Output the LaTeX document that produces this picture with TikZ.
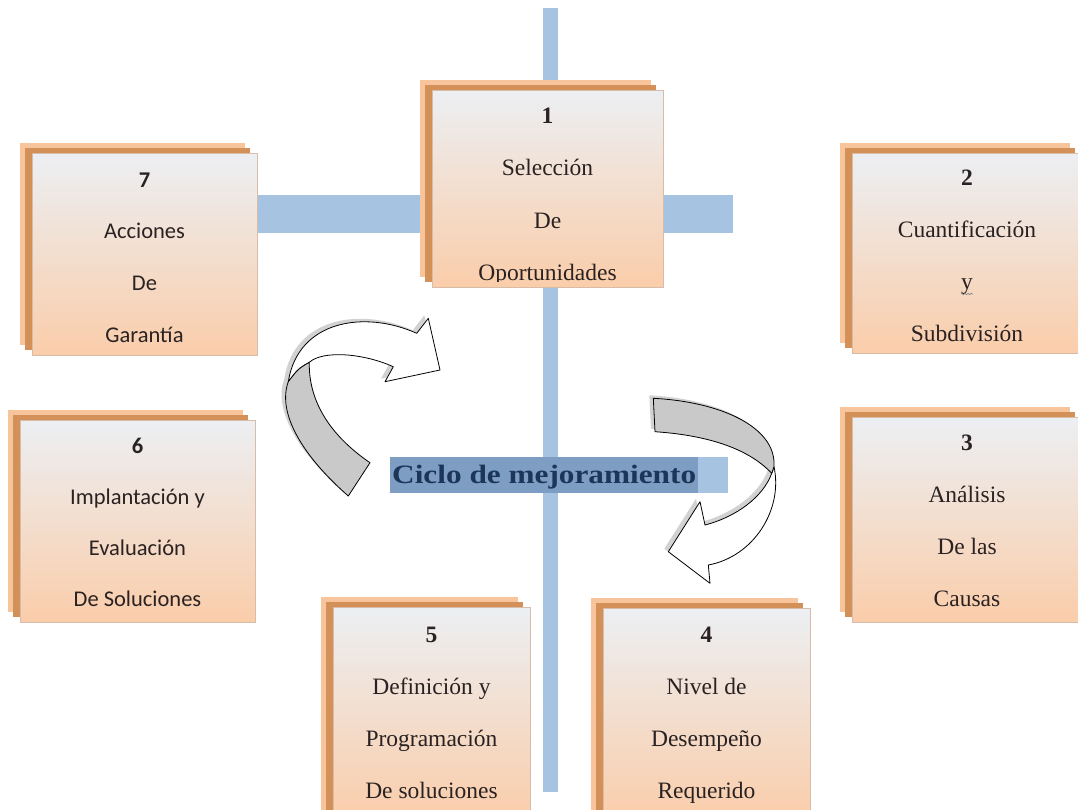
\documentclass[tikz,border=0pt]{standalone}
\usepackage{fontspec}
\setmainfont{Liberation Serif}
\newfontfamily\carl{Carlito}
\usetikzlibrary{decorations.pathmorphing}
\definecolor{barblue}{HTML}{A6C4E2}
\definecolor{ciclodark}{HTML}{7E9DC2}
\definecolor{ciclotext}{HTML}{1B3658}
\definecolor{backlight}{HTML}{F7C49C}
\definecolor{backdark}{HTML}{D39159}
\definecolor{cardtop}{HTML}{ECEFF3}
\definecolor{cardbot}{HTML}{FACDAA}
\definecolor{cardedge}{HTML}{D8BCA8}
\definecolor{textdark}{HTML}{2A2222}
\definecolor{arrowgray}{HTML}{C9C9C9}
\newcommand\serifbox{\fontsize{23.5}{28}\selectfont}
\newcommand\sansbox{\carl\fontsize{22.5}{27}\selectfont}
\newcommand\card[5]{%
  \path (#2,#3) node[minimum width=#4pt, minimum height=#5pt, inner sep=0pt, outer sep=0pt] (#1) {};
  \fill[backlight] ([shift={(-12,-10)}]#1.north west) rectangle ([shift={(-12,-10)}]#1.south east);
  \fill[backdark] ([shift={(-7,-5)}]#1.north west) rectangle ([shift={(-7,-5)}]#1.south east);
  \shadedraw[top color=cardtop, bottom color=cardbot, draw=cardedge, line width=0.6pt] (#1.north west) rectangle (#1.south east);
}
\newcommand\cardlines[9]{%
  \node[txt,font=#5\bfseries] (#1n) at (#2,#3) {#6};
  \node[txt,font=#5] (#1a) at (#2,{#3+#4}) {#7};
  \node[txt,font=#5] (#1b) at (#2,{#3+2*#4}) {#8};
  \node[txt,font=#5] (#1c) at (#2,{#3+3*#4}) {#9};
}
\begin{document}
\begin{tikzpicture}[x=1pt,y=-1pt,
  txt/.style={anchor=base, inner sep=0pt, text=textdark},
  arrowout/.style={draw=black, line width=0.8pt, line join=round},
  arrowshadow/.style={fill=gray, opacity=0.35}]
\useasboundingbox (0,0) rectangle (1078,809);
\clip (0,0) rectangle (1078,809);
\fill[white] (0,0) rectangle (1078,809);
% blue cross bars
\fill[barblue] (543,8) rectangle (558,792);
\fill[barblue] (250,195) rectangle (733,233);
% cards
\card{b7}{144.5}{254}{225}{202}
\card{b1}{547.5}{188.5}{231}{197}
\card{b2}{967}{253}{230}{200}
\card{b3}{967}{519.5}{230}{205}
\card{b6}{137.5}{521}{235}{202}
\card{b5}{431.5}{713.5}{197}{213}
\card{b4}{706.5}{714}{207}{212}
% texts
\cardlines{t7}{144.5}{187}{51.7}{\sansbox}{7}{Acciones}{De}{Garantía}
\begin{scope}
  \clip (432,90) rectangle (663,281);
  \cardlines{t1}{547.5}{123}{52.5}{\serifbox}{1}{Selección}{De}{Oportunidades}
\end{scope}
\cardlines{t2}{967}{185}{52}{\serifbox}{2}{Cuantificación}{y}{Subdivisión}
\draw[decorate, decoration={snake, amplitude=0.8pt, segment length=3pt}, gray, line width=0.6pt] (961,294) -- (973,294);
\cardlines{t3}{967}{450}{52.3}{\serifbox}{3}{Análisis}{De las}{Causas}
\cardlines{t6}{137.5}{453}{51}{\sansbox}{6}{Implantación y}{Evaluación}{De Soluciones}
\cardlines{t5}{431.5}{642}{52}{\serifbox}{5}{Definición y}{Programación}{De soluciones}
\cardlines{t4}{706.5}{642}{52}{\serifbox}{4}{Nivel de}{Desempeño}{Requerido}
% central label
\fill[ciclodark] (390,457) rectangle (698,493);
\fill[barblue] (698,457) rectangle (728,493);
\node[anchor=base west, inner sep=0pt, text=ciclotext] (ciclo) at (392,483)
  {\scalebox{1.18}[1]{\bfseries\fontsize{26.5}{30}\selectfont Ciclo de mejoramiento}};
% left curved arrow
\begin{scope}[shift={(-4,-3)}]
  \fill[arrowshadow] (348.3,496) .. controls (303.3,456.7) and (276.7,413.3) .. (288.3,381.7)
    .. controls (298,320) and (365,310) .. (416.7,333.3) -- (428.3,318.3) -- (440,370)
    -- (385,381.7) -- (393.3,366.7) .. controls (363.3,353.3) and (323.3,350) .. (309.3,362.3)
    .. controls (308.3,406.7) and (336.7,440) .. (370,462.7) -- cycle;
\end{scope}
\fill[white] (348.3,496) .. controls (303.3,456.7) and (276.7,413.3) .. (288.3,381.7)
    .. controls (298,320) and (365,310) .. (416.7,333.3) -- (428.3,318.3) -- (440,370)
    -- (385,381.7) -- (393.3,366.7) .. controls (363.3,353.3) and (323.3,350) .. (309.3,362.3)
    .. controls (308.3,406.7) and (336.7,440) .. (370,462.7) -- cycle;
\path[fill=white, arrowout] (288.3,381.7) .. controls (298,320) and (365,310) .. (416.7,333.3)
  -- (428.3,318.3) -- (440,370) -- (385,381.7) -- (393.3,366.7)
  .. controls (363.3,353.3) and (323.3,350) .. (309.3,362.3)
  .. controls (298,369) .. (288.3,381.7) -- cycle;
\path[fill=arrowgray, arrowout] (348.3,496) .. controls (303.3,456.7) and (276.7,413.3) .. (288.3,381.7)
  .. controls (298,369) .. (309.3,362.3)
  .. controls (308.3,406.7) and (336.7,440) .. (370,462.7) -- cycle;
% right curved arrow
\begin{scope}[shift={(-4,-3)}]
  \fill[arrowshadow] (653.3,398.3) .. controls (720,401.7) and (776.7,426.7) .. (774,466.7)
    .. controls (783.3,510) and (753.3,556.7) .. (708.3,565) -- (710,583.3) -- (668.3,551.7)
    -- (700,501.7) -- (705,525) .. controls (736.7,516.7) and (763.3,496.7) .. (771.7,473.3)
    .. controls (746.7,446.7) and (703.3,435) .. (655,431.7) -- cycle;
\end{scope}
\path[fill=white, arrowout] (774,466.7) .. controls (783.3,510) and (753.3,556.7) .. (708.3,565)
  -- (710,583.3) -- (668.3,551.7) -- (700,501.7) -- (705,525)
  .. controls (736.7,516.7) and (763.3,496.7) .. (771.7,473.3) -- cycle;
\path[fill=arrowgray, arrowout] (653.3,398.3) .. controls (720,401.7) and (776.7,426.7) .. (774,466.7)
  -- (771.7,473.3) .. controls (746.7,446.7) and (703.3,435) .. (655,431.7) -- cycle;
\end{tikzpicture}
\end{document}
